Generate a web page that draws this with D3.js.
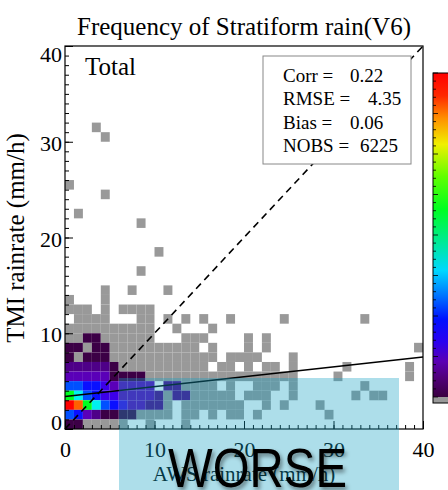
<!DOCTYPE html>
<html><head><meta charset="utf-8">
<script src="https://cdn.jsdelivr.net/npm/d3@7"></script>
<style>html,body{margin:0;padding:0;background:#fff;}svg{display:block;}</style>
</head><body>
<svg id="chart" width="448" height="490"></svg>
<script>
// ---------- data ----------
const title = "Frequency of Stratiform rain(V6)";
const xTitle = "AWS rainrate (mm/h)";
const yTitle = "TMI rainrate (mm/h)";
const panelLabel = "Total";
const xMajorTicks = [0, 10, 20, 30, 40];
const yMajorTicks = [0, 10, 20, 30, 40];
// 1 mm/h bins; first string = row 31 (31-32 mm/h), last = row 0 (0-1 mm/h)
// '.' = no obs, 'g' = lowest count (grey), '1'..'b' = colour levels (low -> high)
const gridRows = [
  "...g....................................", // 31
  "....g...................................", // 30
  "........................................", // 29
  "........................................", // 28
  "........................................", // 27
  "........................................", // 26
  "g.......................................", // 25
  "....g...................................", // 24
  "........................................", // 23
  ".g......................................", // 22
  "........g...............................", // 21
  "........................................", // 20
  "........................................", // 19
  "..........g.............................", // 18
  "........................................", // 17
  "........g...............................", // 16
  "........................................", // 15
  "....g..g...g............................", // 14
  "g...g...................................", // 13
  "ggg.g.gggg..............................", // 12
  ".gggg...gg.g.g.g..g.....g........g......", // 11
  "gggggggggg..g...g.......................", // 10
  "gg11gggggg...ggg....g.g.................", // 9
  "11g11gggggggggg.g...g.g................g", // 8
  "1g111gggggggggggg.gggg...g..............", // 7
  "222221gggggggggg.gg.g.gg.g.....g......g.", // 6
  "333331111ggggggggggggggggg....g.......g.", // 5
  "6655433333.22gggg.g..ggg.g.......g......", // 4
  "98654433332g22ggggg.ggg..g......g.gg....", // 3
  "ba986543322g.ggggggg..g.g...g..........", // 2
  "65321111gggg.gg.g.gg.g.......g..........", // 1
  "11ggggg..g...g.........................."  // 0
];
const levelColors = {
  g: "#999999",
  "1": "#3c0046", "2": "#4e0088", "3": "#5a00b8", "4": "#3c00e8",
  "5": "#0a10ff", "6": "#0050ff", "7": "#00a0ff", "8": "#00f0f0",
  "9": "#00ff20", a: "#ff6000", b: "#ff0000"
};
const statLabels = ["Corr =", "RMSE =", "Bias =", "NOBS ="];
const statValues = ["0.22", "4.35", "0.06", "6225"];
const fitIntercept = 3.4;
const fitSlope = 0.103;
const colorbarStops = [
  [0.00, "#3a0040"], [0.06, "#50007a"], [0.11, "#5a00b4"], [0.17, "#2a00f0"],
  [0.24, "#0010ff"], [0.31, "#0070ff"], [0.39, "#00d8ff"], [0.47, "#00e8a0"],
  [0.58, "#00ff20"], [0.68, "#60ff00"], [0.78, "#f0f000"], [0.86, "#ff9000"],
  [0.93, "#ff2800"], [1.00, "#ff0000"]
];
const overlayText = "WORSE";

// ---------- layout ----------
const svg = d3.select("#chart");
const serif = "'Liberation Serif','Times New Roman',serif";
const x = d3.scaleLinear().domain([0, 40]).range([65, 423]);
const y = d3.scaleLinear().domain([0, 40]).range([429, 46]);

// heat-map cells
const cells = [];
gridRows.forEach((row, k) => {
  const r = gridRows.length - 1 - k;
  row.split("").forEach((ch, c) => { if (ch !== ".") cells.push({c, r, ch}); });
});
svg.append("g").selectAll("rect").data(cells).join("rect")
  .attr("x", d => x(d.c)).attr("y", d => y(d.r + 1))
  .attr("width", d => x(d.c + 1) - x(d.c)).attr("height", d => y(d.r) - y(d.r + 1))
  .attr("fill", d => levelColors[d.ch]);

// 1:1 line and fit line
svg.append("line").attr("x1", x(0)).attr("y1", y(0)).attr("x2", x(40)).attr("y2", y(40))
  .attr("stroke", "#000").attr("stroke-width", 1.6).attr("stroke-dasharray", "7,5");
svg.append("line").attr("x1", x(0)).attr("y1", y(fitIntercept))
  .attr("x2", x(40)).attr("y2", y(fitIntercept + 40 * fitSlope))
  .attr("stroke", "#000").attr("stroke-width", 1.5);

// axes
const minor = d3.range(0, 41);
const gx = svg.append("g").attr("transform", `translate(0,${y(0)})`);
gx.call(d3.axisBottom(x).tickValues(minor).tickSize(-4).tickSizeOuter(0).tickFormat(""));
const gx2 = svg.append("g").attr("transform", `translate(0,${y(0)})`);
gx2.call(d3.axisBottom(x).tickValues(xMajorTicks).tickSize(-8).tickSizeOuter(0));
gx2.selectAll("text").attr("y", 28).attr("dy", 0)
  .style("font-family", serif).style("font-size", "22px").attr("fill", "#000");
const gy = svg.append("g").attr("transform", `translate(${x(0)},0)`);
gy.call(d3.axisLeft(y).tickValues(minor).tickSize(-4).tickSizeOuter(0).tickFormat(""));
const gy2 = svg.append("g").attr("transform", `translate(${x(0)},0)`);
gy2.call(d3.axisLeft(y).tickValues(yMajorTicks).tickSize(-8).tickSizeOuter(0));
gy2.selectAll("text").attr("x", -3).attr("dy", "0.35em")
  .attr("y", d => d === 40 ? 7.5 : d === 0 ? -7.5 : 1)
  .style("font-family", serif).style("font-size", "22px").attr("fill", "#000");
svg.selectAll(".domain").remove();
svg.selectAll(".tick line").attr("stroke", "#000");
svg.append("rect").attr("x", x(0)).attr("y", y(40)).attr("width", x(40) - x(0))
  .attr("height", y(0) - y(40)).attr("fill", "none").attr("stroke", "#000").attr("stroke-width", 1.2);

// titles
svg.append("text").attr("x", 244).attr("y", 35).attr("text-anchor", "middle")
  .style("font-family", serif).style("font-size", "25px").text(title);
svg.append("text").attr("x", 85).attr("y", 75)
  .style("font-family", serif).style("font-size", "25px").text(panelLabel);
svg.append("text").attr("x", 244).attr("y", 481).attr("text-anchor", "middle")
  .style("font-family", serif).style("font-size", "21px").text(xTitle);
svg.append("text").attr("transform", "translate(24,238) rotate(-90)").attr("text-anchor", "middle")
  .style("font-family", serif).style("font-size", "25px").text(yTitle);

// stats box
svg.append("rect").attr("x", 263).attr("y", 56).attr("width", 148).attr("height", 108)
  .attr("fill", "#fff").attr("stroke", "#888").attr("stroke-width", 1);
const valueX = [350, 368, 350, 360];
statLabels.forEach((s, i) => {
  const by = 82 + i * 23.3;
  svg.append("text").attr("x", 283).attr("y", by).style("font-family", serif)
    .style("font-size", "19px").text(s);
  svg.append("text").attr("x", valueX[i]).attr("y", by).style("font-family", serif)
    .style("font-size", "19px").text(statValues[i]);
});

// colour bar
const defs = svg.append("defs");
const grad = defs.append("linearGradient").attr("id", "cbar")
  .attr("x1", 0).attr("y1", 1).attr("x2", 0).attr("y2", 0);
colorbarStops.forEach(s => grad.append("stop").attr("offset", s[0]).attr("stop-color", s[1]));
const cbTop = 73, cbBot = 397, cbX = 433, cbW = 20;
svg.append("rect").attr("x", cbX).attr("y", cbTop).attr("width", cbW).attr("height", cbBot - cbTop)
  .attr("fill", "url(#cbar)");
svg.append("rect").attr("x", cbX).attr("y", cbBot).attr("width", cbW).attr("height", 6).attr("fill", "#999");
const cbScale = d3.scaleLinear().domain([0, 40]).range([cbBot, cbTop]);
svg.append("g").selectAll("line").data(d3.range(0, 41)).join("line")
  .attr("x1", cbX).attr("x2", d => cbX + (d % 5 === 0 ? 5 : 3))
  .attr("y1", d => cbScale(d)).attr("y2", d => cbScale(d)).attr("stroke", "#000").attr("stroke-width", 0.8);
svg.append("rect").attr("x", cbX).attr("y", cbTop).attr("width", cbW).attr("height", cbBot + 6 - cbTop)
  .attr("fill", "none").attr("stroke", "#000").attr("stroke-width", 1);

// overlay annotation
svg.append("rect").attr("x", 119).attr("y", 378).attr("width", 280).attr("height", 112)
  .attr("fill", "rgb(21,161,195)").attr("fill-opacity", 0.35);
const f = defs.append("filter").attr("id", "shadow").attr("x", "-10%").attr("y", "-20%")
  .attr("width", "130%").attr("height", "150%");
f.append("feDropShadow").attr("dx", 2).attr("dy", 3).attr("stdDeviation", 2)
  .attr("flood-color", "#000").attr("flood-opacity", 0.45);
svg.append("text").attr("x", 168).attr("y", 487)
  .attr("textLength", 179).attr("lengthAdjust", "spacingAndGlyphs")
  .style("font-family", "'Liberation Sans',Arial,sans-serif").style("font-size", "56px")
  .attr("fill", "#000").attr("filter", "url(#shadow)").text(overlayText);
</script>
</body></html>
